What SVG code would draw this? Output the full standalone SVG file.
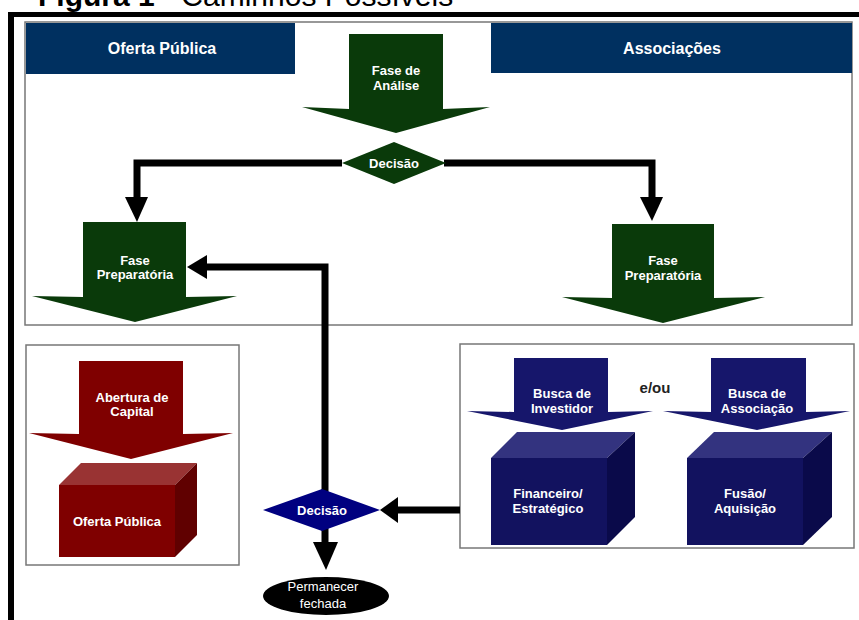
<svg xmlns="http://www.w3.org/2000/svg" width="859" height="620" viewBox="0 0 859 620">
<style>
  .t{font-family:"Liberation Sans",Arial,sans-serif;font-weight:bold;fill:#fff;text-anchor:middle}
  .hdr{font-size:16px}
  .s{font-size:13px}
  .n{font-weight:normal}
  .frame{fill:#fff;stroke:#777;stroke-width:1.5}
  .green{fill:#0a3a0a}
  .red{fill:#7f0000}
  .navy{fill:#16166b}
  .ln{fill:none;stroke:#000;stroke-width:7}
</style>
<rect width="859" height="620" fill="#fff"/>
<text x="38" y="6" font-family="Liberation Sans,Arial,sans-serif" font-size="30" fill="#000"><tspan font-weight="bold">Figura 1</tspan> - Caminhos Possíveis</text>
<rect x="8" y="12" width="851" height="5" fill="#000"/>
<rect x="8" y="12" width="6" height="608" fill="#000"/>

<g id="frame-top"><rect class="frame" x="25" y="22" width="827" height="303"/></g>
<g id="hdr-oferta"><rect x="26" y="23" width="269" height="51" fill="#003060"/><text class="t hdr" x="162" y="54">Oferta Pública</text></g>
<g id="hdr-assoc"><rect x="491" y="23" width="361" height="50" fill="#003060"/><text class="t hdr" x="672" y="54">Associações</text></g>

<g id="frame-left"><rect class="frame" x="26" y="345" width="213" height="220"/></g>
<g id="frame-right"><rect class="frame" x="460" y="344" width="394" height="204"/></g>

<g id="connectors">
  <polyline class="ln" points="342,163 137,163 137,200"/>
  <polygon points="125,197 148,197 137,222" fill="#000"/>
  <polyline class="ln" points="444,163 652,163 652,200"/>
  <polygon points="640,197 663,197 652,221" fill="#000"/>
  <polyline class="ln" points="325,492 325,267 205,267"/>
  <polygon points="187,267 207,255 207,279" fill="#000"/>
  <line class="ln" x1="460" y1="510" x2="395" y2="510"/>
  <polygon points="380,510 398,497 398,523" fill="#000"/>
  <line class="ln" x1="325" y1="528" x2="325" y2="545"/>
  <polygon points="313,542 338,542 326,570" fill="#000"/>
</g>

<g id="fase-analise">
  <polygon class="green" points="349,34 443,34 443,109 490,107 396,133 302,107 349,109"/>
  <text class="t s" x="396" y="75">Fase de</text>
  <text class="t s" x="396" y="90">Análise</text>
</g>
<g id="decisao-top">
  <polygon class="green" points="342,163 394,142 446,163 394,184"/>
  <text class="t s" x="394" y="168">Decisão</text>
</g>
<g id="fase-prep-left">
  <polygon class="green" points="83,222 186,222 186,297 237,296 135,322 32,296 83,297"/>
  <text class="t s" x="135" y="265">Fase</text>
  <text class="t s" x="135" y="279">Preparatória</text>
</g>
<g id="fase-prep-right">
  <polygon class="green" points="612,224 714,224 714,298 765,297 663,323 562,297 612,298"/>
  <text class="t s" x="663" y="265">Fase</text>
  <text class="t s" x="663" y="280">Preparatória</text>
</g>

<g id="abertura">
  <polygon class="red" points="79,361 183,361 183,434 233,433 131,459 29,433 79,434"/>
  <text class="t s" x="132" y="402">Abertura de</text>
  <text class="t s" x="132" y="416">Capital</text>
</g>
<g id="oferta-box">
  <polygon fill="#993333" points="59,485 81,463 197,463 175,485"/>
  <polygon fill="#600000" points="175,485 197,463 197,535 175,557"/>
  <rect class="red" x="59" y="485" width="116" height="72"/>
  <text class="t s" x="117" y="526">Oferta Pública</text>
</g>

<g id="decisao-bottom">
  <polygon fill="#000080" points="263,510 322,489 380,510 322,531"/>
  <text class="t s" x="322" y="515">Decisão</text>
</g>
<g id="permanecer">
  <ellipse cx="326" cy="596" rx="63" ry="19" fill="#000"/>
  <text class="t s n" x="323" y="591">Permanecer</text>
  <text class="t s n" x="323" y="608">fechada</text>
</g>

<g id="busca-investidor">
  <polygon class="navy" points="514,358 608,358 608,412 653,411 562,430 467,411 514,412"/>
  <text class="t s" x="562" y="398">Busca de</text>
  <text class="t s" x="562" y="413">Investidor</text>
</g>
<g id="eou"><text x="655" y="393" font-family="Liberation Sans,Arial,sans-serif" font-weight="bold" font-size="15" fill="#222" text-anchor="middle">e/ou</text></g>
<g id="busca-associacao">
  <polygon class="navy" points="711,358 806,358 806,412 850,411 757,430 663,411 711,412"/>
  <text class="t s" x="757" y="398">Busca de</text>
  <text class="t s" x="757" y="413">Associação</text>
</g>
<g id="financeiro">
  <polygon fill="#33337f" points="491,458 517,432 635,432 607,458"/>
  <polygon fill="#0a0a4a" points="607,458 635,432 635,517 607,545"/>
  <rect x="491" y="458" width="116" height="87" fill="#12125f"/>
  <text class="t s" x="548" y="498">Financeiro/</text>
  <text class="t s" x="548" y="513">Estratégico</text>
</g>
<g id="fusao">
  <polygon fill="#33337f" points="687,458 714,432 832,432 803,458"/>
  <polygon fill="#0a0a4a" points="803,458 832,432 832,517 803,545"/>
  <rect x="687" y="458" width="116" height="87" fill="#12125f"/>
  <text class="t s" x="745" y="498">Fusão/</text>
  <text class="t s" x="745" y="513">Aquisição</text>
</g>
</svg>
